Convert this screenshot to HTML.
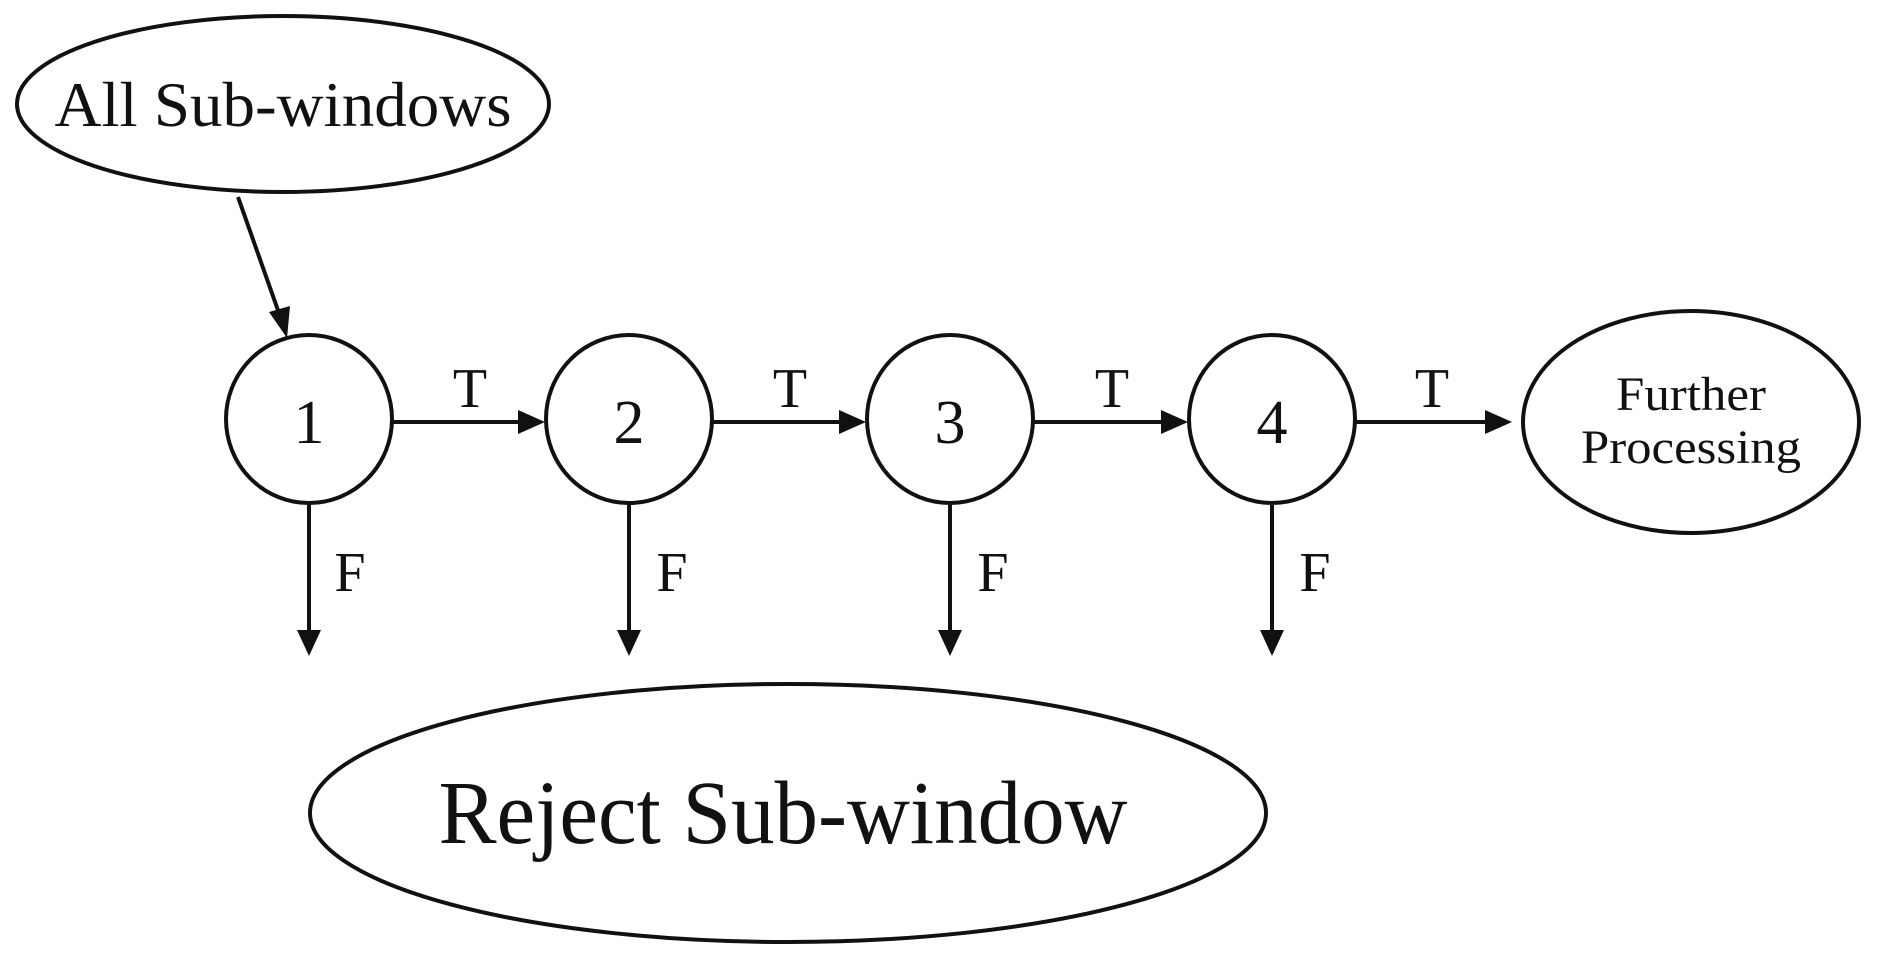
<!DOCTYPE html>
<html><head><style>
html,body{margin:0;padding:0;background:#fff;}
svg{display:block;}
text{font-family:"Liberation Serif",serif;fill:#111;}
</style></head><body>
<svg width="1885" height="961" viewBox="0 0 1885 961" xmlns="http://www.w3.org/2000/svg">
<g fill="none" stroke="#111" stroke-width="4">
<ellipse cx="283" cy="104" rx="266" ry="88"/>
<ellipse cx="309" cy="419" rx="83" ry="84"/>
<ellipse cx="629" cy="419" rx="83" ry="84"/>
<ellipse cx="950" cy="419" rx="83" ry="84"/>
<ellipse cx="1272" cy="419" rx="83" ry="84"/>
<ellipse cx="1691" cy="422" rx="168" ry="111"/>
<ellipse cx="788" cy="813" rx="478" ry="129"/>
<line x1="238" y1="197" x2="280" y2="316"/>
<line x1="393" y1="422" x2="520" y2="422"/>
<line x1="713" y1="422" x2="842" y2="422"/>
<line x1="1034" y1="422" x2="1163" y2="422"/>
<line x1="1356" y1="422" x2="1488" y2="422"/>
<line x1="309" y1="503" x2="309" y2="632"/>
<line x1="629" y1="503" x2="629" y2="632"/>
<line x1="950" y1="503" x2="950" y2="632"/>
<line x1="1272" y1="503" x2="1272" y2="632"/>
</g>
<g fill="#111">
<polygon points="287,338 269,312 290,306"/>
<polygon points="545,422 518,410 518,434"/>
<polygon points="866,422 839,410 839,434"/>
<polygon points="1188,422 1161,410 1161,434"/>
<polygon points="1512,422 1485,410 1485,434"/>
<polygon points="309,656 297,630 321,630"/>
<polygon points="629,656 617,630 641,630"/>
<polygon points="950,656 938,630 962,630"/>
<polygon points="1272,656 1260,630 1284,630"/>
</g>
<g text-anchor="middle">
<text x="283" y="126" font-size="64" textLength="457" lengthAdjust="spacingAndGlyphs">All Sub-windows</text>
<text x="309" y="443" font-size="62">1</text>
<text x="629" y="443" font-size="62">2</text>
<text x="950" y="443" font-size="62">3</text>
<text x="1272" y="443" font-size="62">4</text>
<text x="470" y="407" font-size="56">T</text>
<text x="790" y="407" font-size="56">T</text>
<text x="1112" y="407" font-size="56">T</text>
<text x="1432" y="407" font-size="56">T</text>
<text x="350" y="591" font-size="56">F</text>
<text x="672" y="591" font-size="56">F</text>
<text x="993" y="591" font-size="56">F</text>
<text x="1315" y="591" font-size="56">F</text>
<text x="1691" y="410" font-size="48" textLength="150" lengthAdjust="spacingAndGlyphs">Further</text>
<text x="1691" y="463" font-size="48" textLength="220" lengthAdjust="spacingAndGlyphs">Processing</text>
<text x="783" y="843" font-size="90" textLength="689" lengthAdjust="spacingAndGlyphs">Reject Sub-window</text>
</g>
</svg>
</body></html>
